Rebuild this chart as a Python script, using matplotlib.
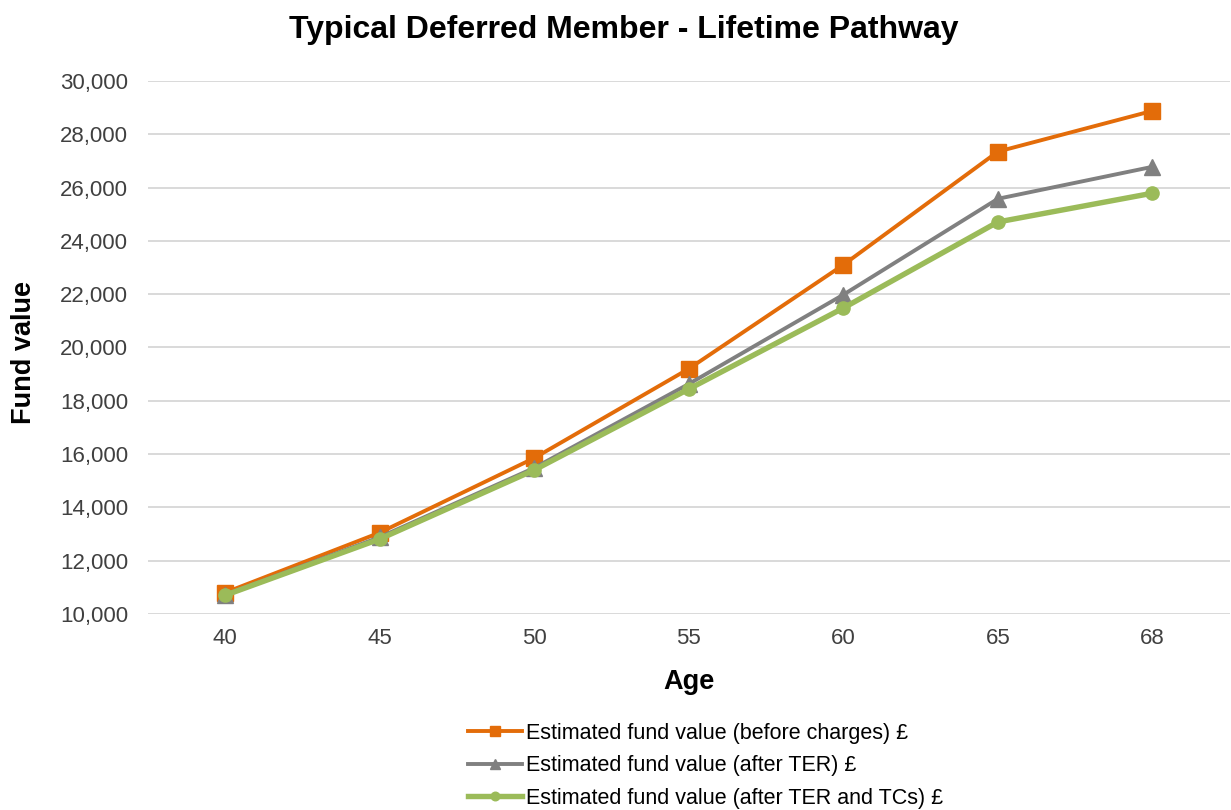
import numpy as np
import matplotlib.pyplot as plt
from matplotlib.ticker import FuncFormatter

plt.rcParams['font.family'] = ['Liberation Sans', 'DejaVu Sans']

# Fund value projections at each age
ages = ['40', '45', '50', '55', '60', '65', '68']
before_charges = [10800, 13050, 15850, 19200, 23100, 27350, 28880]
after_ter = [10720, 12880, 15480, 18630, 21980, 25580, 26780]
after_ter_tcs = [10700, 12810, 15400, 18440, 21480, 24710, 25790]

labels = ['Estimated fund value (before charges) \u00a3',
          'Estimated fund value (after TER) \u00a3',
          'Estimated fund value (after TER and TCs) \u00a3']

fig = plt.figure(figsize=(12.31, 8.10), dpi=100)
ax = fig.add_axes([0.120, 0.242, 0.879, 0.658])

x = np.arange(len(ages))
ax.plot(x, before_charges, color='#E36C09', lw=2.8, marker='s', ms=11,
        label=labels[0], zorder=3)
ax.plot(x, after_ter, color='#808080', lw=2.8, marker='^', ms=12,
        label=labels[1], zorder=4)
ax.plot(x, after_ter_tcs, color='#9BBB59', lw=3.9, marker='o', ms=9.5,
        label=labels[2], zorder=5)

ax.set_xlim(-0.5, len(ages) - 0.5)
ax.set_ylim(10000, 30000)
ax.set_yticks(np.arange(10000, 30001, 2000))
ax.yaxis.set_major_formatter(FuncFormatter(lambda v, p: f'{int(v):,}'))
ax.set_xticks(x)
ax.set_xticklabels(ages)
ax.tick_params(axis='both', length=0, labelsize=16, colors='#404040')
ax.tick_params(axis='y', pad=14)
ax.tick_params(axis='x', pad=10)
ax.grid(axis='y', color='#D9D9D9', lw=1.4)
ax.set_axisbelow(True)
for s in ax.spines.values():
    s.set_visible(False)

fig.text(0.5597, 1 - 682 / 810, 'Age', fontsize=19.5, fontweight='bold',
         ha='center', va='center')
fig.text(24 / 1231, 1 - 352 / 810, 'Fund value', fontsize=19.5,
         fontweight='bold', rotation=90, ha='center', va='center')
fig.text(624 / 1231, 1 - 30 / 810, 'Typical Deferred Member - Lifetime Pathway',
         fontsize=23, fontweight='bold', ha='center', va='center')

fig.legend(loc='upper left', bbox_to_anchor=(0.380, 0.108), frameon=False,
           fontsize=15.5, handlelength=2.5, handletextpad=0.22,
           labelspacing=0.54, borderaxespad=0, borderpad=0, markerscale=0.65)

fig.savefig('out.png', dpi=100)
